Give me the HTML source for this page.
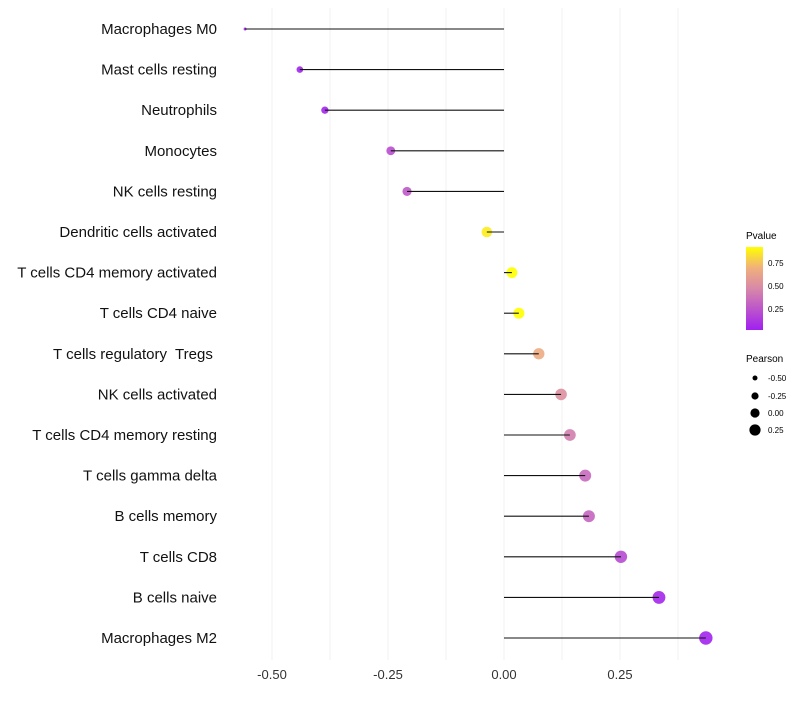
<!DOCTYPE html>
<html><head><meta charset="utf-8"><style>
body{margin:0;background:#fff;font-family:"Liberation Sans",sans-serif}
svg text{font-family:"Liberation Sans",sans-serif;white-space:pre}
</style></head><body>
<svg id="chart" width="800" height="700" xmlns="http://www.w3.org/2000/svg">
<defs><linearGradient id="pg" x1="0" y1="1" x2="0" y2="0">
<stop offset="0" stop-color="#a020f0"/><stop offset="0.5" stop-color="#d888a8"/><stop offset="0.75" stop-color="#f0b07c"/><stop offset="1" stop-color="#ffff00"/>
</linearGradient></defs>
<g id="grid"></g><g id="marks"></g><g id="labels"></g>
<g>
<text x="746" y="239" font-size="10">Pvalue</text>
<rect x="746" y="247" width="17" height="83" fill="url(#pg)"/>
<text x="768" y="266" font-size="8">0.75</text>
<text x="768" y="289" font-size="8">0.50</text>
<text x="768" y="312" font-size="8">0.25</text>
</g>
<g>
<text x="746" y="362" font-size="10">Pearson</text>
<circle cx="755" cy="378" r="2.5"/><text x="768" y="381" font-size="8">-0.50</text>
<circle cx="755" cy="396" r="3.6"/><text x="768" y="399" font-size="8">-0.25</text>
<circle cx="755" cy="413" r="4.6"/><text x="768" y="416" font-size="8">0.00</text>
<circle cx="755" cy="430" r="5.6"/><text x="768" y="433" font-size="8">0.25</text>
</g>
</svg>
<script>
const categories=["Macrophages M0","Mast cells resting","Neutrophils","Monocytes","NK cells resting","Dendritic cells activated","T cells CD4 memory activated","T cells CD4 naive","T cells regulatory  Tregs ","NK cells activated","T cells CD4 memory resting","T cells gamma delta","B cells memory","T cells CD8","B cells naive","Macrophages M2"];
const pearson=[-0.558,-0.44,-0.386,-0.244,-0.209,-0.037,0.017,0.032,0.075,0.123,0.142,0.175,0.183,0.252,0.334,0.435];
const pvalues=[0.01,0.02,0.03,0.22,0.27,0.88,0.95,0.92,0.72,0.55,0.45,0.35,0.33,0.2,0.04,0.02];
const xTicks=[-0.5,-0.25,0,0.25];
const xTickLabels=["-0.50","-0.25","0.00","0.25"];
const ns="http://www.w3.org/2000/svg";
const x=v=>504+v*464;
const y=i=>29+i*40.6;
const rad=p=>1.5+5.2*Math.sqrt(Math.max(0,(p+0.558)/0.993));
function lerp(a,b,t){return a.map((c,i)=>Math.round(c+(b[i]-c)*t));}
function col(p){const s=[[0,[160,32,240]],[0.5,[216,136,168]],[0.75,[240,176,124]],[0.92,[255,255,0]]];
if(p>=0.92)return"rgb(255,255,0)";for(let i=0;i<s.length-1;i++){if(p<=s[i+1][0]){const c=lerp(s[i][1],s[i+1][1],(p-s[i][0])/(s[i+1][0]-s[i][0]));return`rgb(${c})`;}}}
function mk(t,a,parent){const e=document.createElementNS(ns,t);for(const k in a)e.setAttribute(k,a[k]);parent.appendChild(e);return e;}
const grid=document.getElementById('grid'),marks=document.getElementById('marks'),labels=document.getElementById('labels');
for(let v=-0.5;v<=0.4;v+=0.125){const l=mk('line',{x1:x(v),x2:x(v),y1:8,y2:660,stroke:'#f0f0f0','stroke-width':1},grid);

}
xTicks.forEach((v,i)=>{const t=mk('text',{x:x(v),y:679,'font-size':13,'text-anchor':'middle',fill:'#333'},labels);t.textContent=xTickLabels[i];

});
categories.forEach((c,i)=>{
const t=mk('text',{x:217,y:y(i)+5,'font-size':15,'text-anchor':'end',fill:'#111'},labels);t.textContent=c;


const pt=mk('circle',{cx:x(pearson[i]),cy:y(i),r:rad(pearson[i]),fill:col(pvalues[i]),'fill-opacity':0.9},marks);


const ln=mk('line',{x1:x(0),x2:x(pearson[i]),y1:y(i),y2:y(i),stroke:'#111','stroke-width':1.1},marks);


});
</script>
</body></html>
